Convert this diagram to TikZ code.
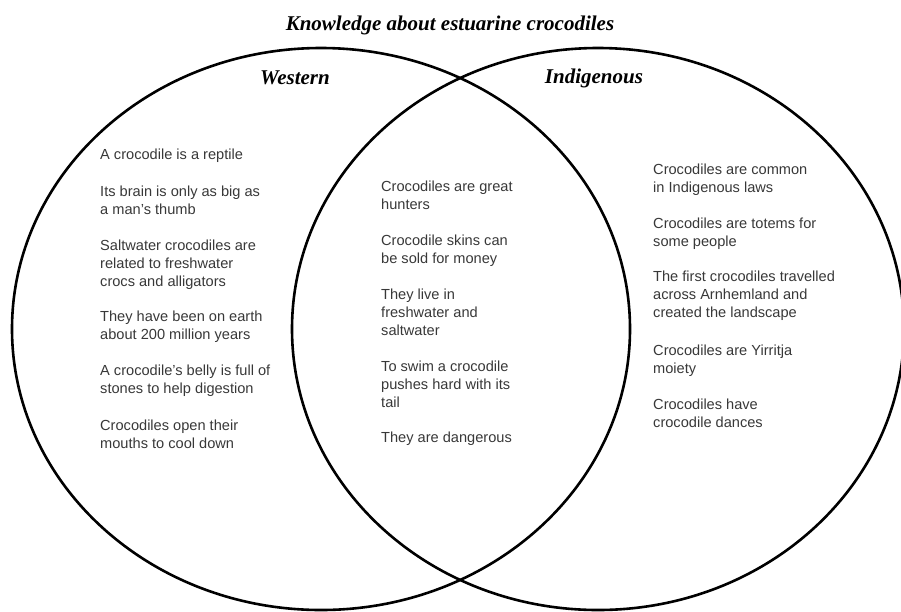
\documentclass[tikz,border=0pt]{standalone}
\usepackage{fontspec}
\setmainfont{Liberation Serif}
\setsansfont{Liberation Sans}
\usetikzlibrary{shapes.geometric}

\begin{document}
\begin{tikzpicture}[
            x=1pt, y=-1pt,
            set/.style={ellipse, draw, line width=2.6pt, inner sep=0pt, minimum height=562pt},
            heading/.style={font=\fontsize{21}{24}\selectfont\bfseries\itshape},
            fact/.style={anchor=north west, align=left, inner sep=0pt, text=black!78,
                font=\sffamily\fontsize{14.6}{17.7}\selectfont}
        ]
            \useasboundingbox (0,0) rectangle (901,611);

            % the two sets
            \node[set, minimum width=618pt] (western) at (321,329) {};
            \node[set, minimum width=612pt] (indigenous) at (598,329) {};

            \node[heading] (title) at (450,25) {Knowledge about estuarine crocodiles};
            \node[heading] (westlabel) at (295,78) {Western};
            \node[heading] (indiglabel) at (594,78) {Indigenous};

            % western only
            \foreach \y/\txt [count=\i] in {149/{A crocodile is a reptile},
                186/{Its brain is only as big as\\a man's thumb},
                240/{Saltwater crocodiles are\\related to freshwater\\crocs and alligators},
                311/{They have been on earth\\about 200 million years},
                365/{A crocodile's belly is full of\\stones to help digestion},
                420/{Crocodiles open their\\mouths to cool down}}
                \node[fact] (w\i) at (100,\y) {\txt};

            % both
            \foreach \y/\txt [count=\i] in {181/{Crocodiles are great\\hunters},
                235/{Crocodile skins can\\be sold for money},
                289/{They live in\\freshwater and\\saltwater},
                361/{To swim a crocodile\\pushes hard with its\\tail},
                432/{They are dangerous}}
                \node[fact] (m\i) at (381,\y) {\txt};

            % indigenous only
            \foreach \y/\txt [count=\i] in {164/{Crocodiles are common\\in Indigenous laws},
                218/{Crocodiles are totems for\\some people},
                271/{The first crocodiles travelled\\across Arnhemland and\\created the landscape},
                345/{Crocodiles are Yirritja\\moiety},
                399/{Crocodiles have\\crocodile dances}}
                \node[fact] (i\i) at (653,\y) {\txt};
        \end{tikzpicture}
\end{document}
